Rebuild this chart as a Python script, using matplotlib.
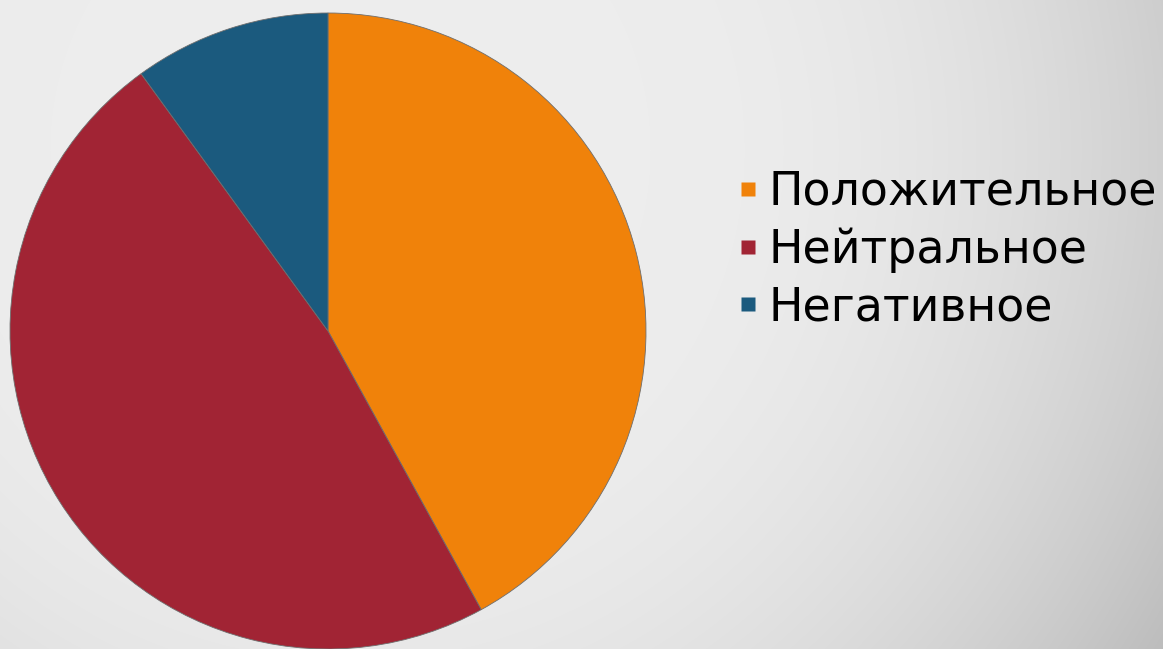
import numpy as np
import matplotlib
matplotlib.use("Agg")
import matplotlib.pyplot as plt
from matplotlib.lines import Line2D

categories = ["Положительное", "Нейтральное", "Негативное"]
values = [42, 48, 10]
colors = ["#F0820A", "#A12434", "#1B5A7E"]

W, H = 1163, 649
fig = plt.figure(figsize=(W / 100, H / 100), dpi=100)

# background gradient
bg = fig.add_axes([0, 0, 1, 1])
yy, xx = np.mgrid[0:H, 0:W]
d = np.hypot(xx - 350, yy - 150)
v = 237 - 1.13e-4 * np.clip(d - 300, 0, None) ** 2
v = np.clip(v, 0, 255) / 255.0
bg.imshow(np.dstack([v, v, v]), extent=[0, W, H, 0], aspect="auto")
bg.set_axis_off()

# pie axes: center (328, 331) px, radius 318 px
cx, cy, r = 328, 331, 318
ax = fig.add_axes([(cx - r) / W, (H - cy - r) / H, 2 * r / W, 2 * r / H])
wedges, _ = ax.pie(values, colors=colors, startangle=90, counterclock=False,
                   radius=1.0, wedgeprops=dict(edgecolor="#6e6e6e", linewidth=0.6))
ax.set_xlim(-1, 1)
ax.set_ylim(-1, 1)
ax.set_aspect("auto")
ax.set_axis_off()

handles = [Line2D([], [], linestyle="none", marker="s", markersize=9.5,
                  markerfacecolor=c, markeredgecolor="none") for c in colors]
leg = fig.legend(handles, categories, loc="upper left",
                 bbox_to_anchor=(739 / W, 1 - 170 / H),
                 frameon=False, fontsize=33, handlelength=0.4,
                 handletextpad=0.25, labelspacing=0.27, borderpad=0,
                 borderaxespad=0)

fig.savefig("out.png", dpi=100)
